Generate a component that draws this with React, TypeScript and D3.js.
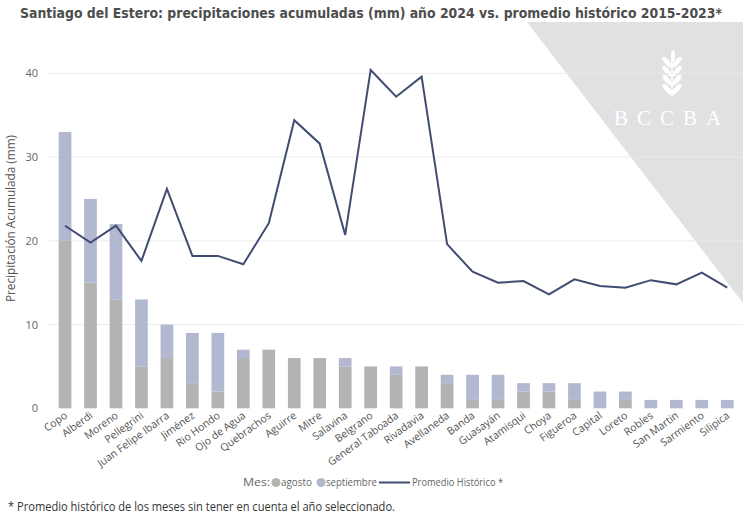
import React from "react";
import * as d3 from "d3";

const categories = ["Copo","Alberdi","Moreno","Pellegrini","Juan Felipe Ibarra","Jiménez","Rio Hondo","Ojo de Agua","Quebrachos","Aguirre","Mitre","Salavina","Belgrano","General Taboada","Rivadavia","Avellaneda","Banda","Guasayán","Atamisqui","Choya","Figueroa","Capital","Loreto","Robles","San Martin","Sarmiento","Silipica"];
const agosto = [20,15,13,5,6,3,2,6,7,6,6,5,5,4,5,3,1,1,2,2,1,0,1,0,0,0,0];
const septiembre = [13,10,9,8,4,6,7,1,0,0,0,1,0,1,0,1,3,3,1,1,2,2,1,1,1,1,1];
const promedio = [21.8,19.8,21.8,17.6,26.2,18.2,18.2,17.2,22.1,34.4,31.6,20.7,40.4,37.2,39.6,19.6,16.3,15.0,15.2,13.6,15.4,14.6,14.4,15.3,14.8,16.2,14.4];
const yTicks = [0,10,20,30,40];

const W = 747, H = 517;
const font = "'Open Sans', 'Noto Sans', sans-serif";

export default function App() {
  const x = d3.scaleBand<string>().domain(categories).range([52.3, 740]).paddingInner(0.5).paddingOuter(0.25);
  const y = d3.scaleLinear().domain([0, 40]).range([408.3, 73.3]);
  const bw = 12.7;
  const cx = (c: string) => (x(c) as number) + x.bandwidth() / 2;
  const line = d3.line<number>().x((_, i) => cx(categories[i])).y(d => y(d));

  return (
    <svg width={W} height={H} style={{ position: "absolute", left: 0, top: 0, background: "#fff" }}>
      {/* watermark triangle */}
      <polygon points="527,22 743,22 743,303" fill="#e1e1e3" />
      {/* wheat icon */}
      <g transform="translate(672,50)" fill="#fff">
        <line x1={0} y1={4} x2={0} y2={46} stroke="#fff" strokeWidth={1.6} />
        <ellipse cx={1} cy={6} rx={2} ry={6} />
        {[12, 21, 30, 39].map((yy, i) => (
          <g key={i}>
            <ellipse cx={-5} cy={yy} rx={2.5} ry={6.5} transform={`rotate(-40,-5,${yy})`} />
            <ellipse cx={5} cy={yy} rx={2.5} ry={6.5} transform={`rotate(40,5,${yy})`} />
          </g>
        ))}
      </g>
      <text x={672} y={125} textAnchor="middle" fill="#fff" fontFamily="'Liberation Serif', 'DejaVu Serif', serif" fontSize={21} letterSpacing={9}>BCCBA</text>

      {/* title */}
      <text x={20} y={18} fontFamily="'Liberation Sans Narrow', 'DejaVu Sans Condensed', 'Roboto', sans-serif" fontWeight="bold" fontSize={14.5} fill="#4d4d4d" textLength={702} lengthAdjust="spacingAndGlyphs">Santiago del Estero: precipitaciones acumuladas (mm) año 2024 vs. promedio histórico 2015-2023*</text>

      {/* gridlines */}
      {yTicks.map(t => (
        <g key={t}>
          {t > 0 && <line x1={48} x2={743} y1={y(t)} y2={y(t)} stroke="#ececec" strokeWidth={1} />}
          <text x={38} y={y(t) + 4} textAnchor="end" fontFamily={font} fontSize={11} fill="#666">{t}</text>
        </g>
      ))}

      {/* y label */}
      <text transform="translate(15,218.5) rotate(-90)" textAnchor="middle" fontFamily={font} fontSize={12} fill="#555" textLength={167} lengthAdjust="spacingAndGlyphs">Precipitación Acumulada (mm)</text>

      {/* bars */}
      {categories.map((c, i) => {
        const x0 = cx(c) - bw / 2;
        const a = agosto[i], s = septiembre[i];
        return (
          <g key={c}>
            {a > 0 && <rect x={x0} y={y(a)} width={bw} height={y(0) - y(a)} fill="#b3b3b3" />}
            {s > 0 && <rect x={x0} y={y(a + s)} width={bw} height={y(a) - y(a + s)} fill="#b3b8d1" />}
          </g>
        );
      })}

      {/* line */}
      <path d={line(promedio) || ""} fill="none" stroke="#414c72" strokeWidth={2} strokeLinejoin="miter" />

      {/* x labels */}
      {categories.map(c => (
        <text key={c} transform={`translate(${cx(c) + 3},${417}) rotate(-36)`} textAnchor="end" fontFamily={font} fontSize={10.5} fill="#555">{c}</text>
      ))}

      {/* legend */}
      <g fontFamily={font} fontSize={10.5} fill="#666">
        <text x={243} y={486} textLength={27} lengthAdjust="spacingAndGlyphs">Mes:</text>
        <circle cx={276} cy={482.5} r={4.5} fill="#b3b3b3" />
        <text x={281} y={486} textLength={31} lengthAdjust="spacingAndGlyphs">agosto</text>
        <circle cx={321} cy={482.5} r={4.5} fill="#b3b8d1" />
        <text x={326} y={486} textLength={51} lengthAdjust="spacingAndGlyphs">septiembre</text>
        <line x1={379} x2={410} y1={482.5} y2={482.5} stroke="#414c72" strokeWidth={2} />
        <text x={412} y={486} textLength={91} lengthAdjust="spacingAndGlyphs">Promedio Histórico *</text>
      </g>

      {/* footnote */}
      <text x={8} y={511} fontFamily={font} fontSize={12} fill="#333" textLength={387} lengthAdjust="spacingAndGlyphs">* Promedio histórico de los meses sin tener en cuenta el año seleccionado.</text>
    </svg>
  );
}
